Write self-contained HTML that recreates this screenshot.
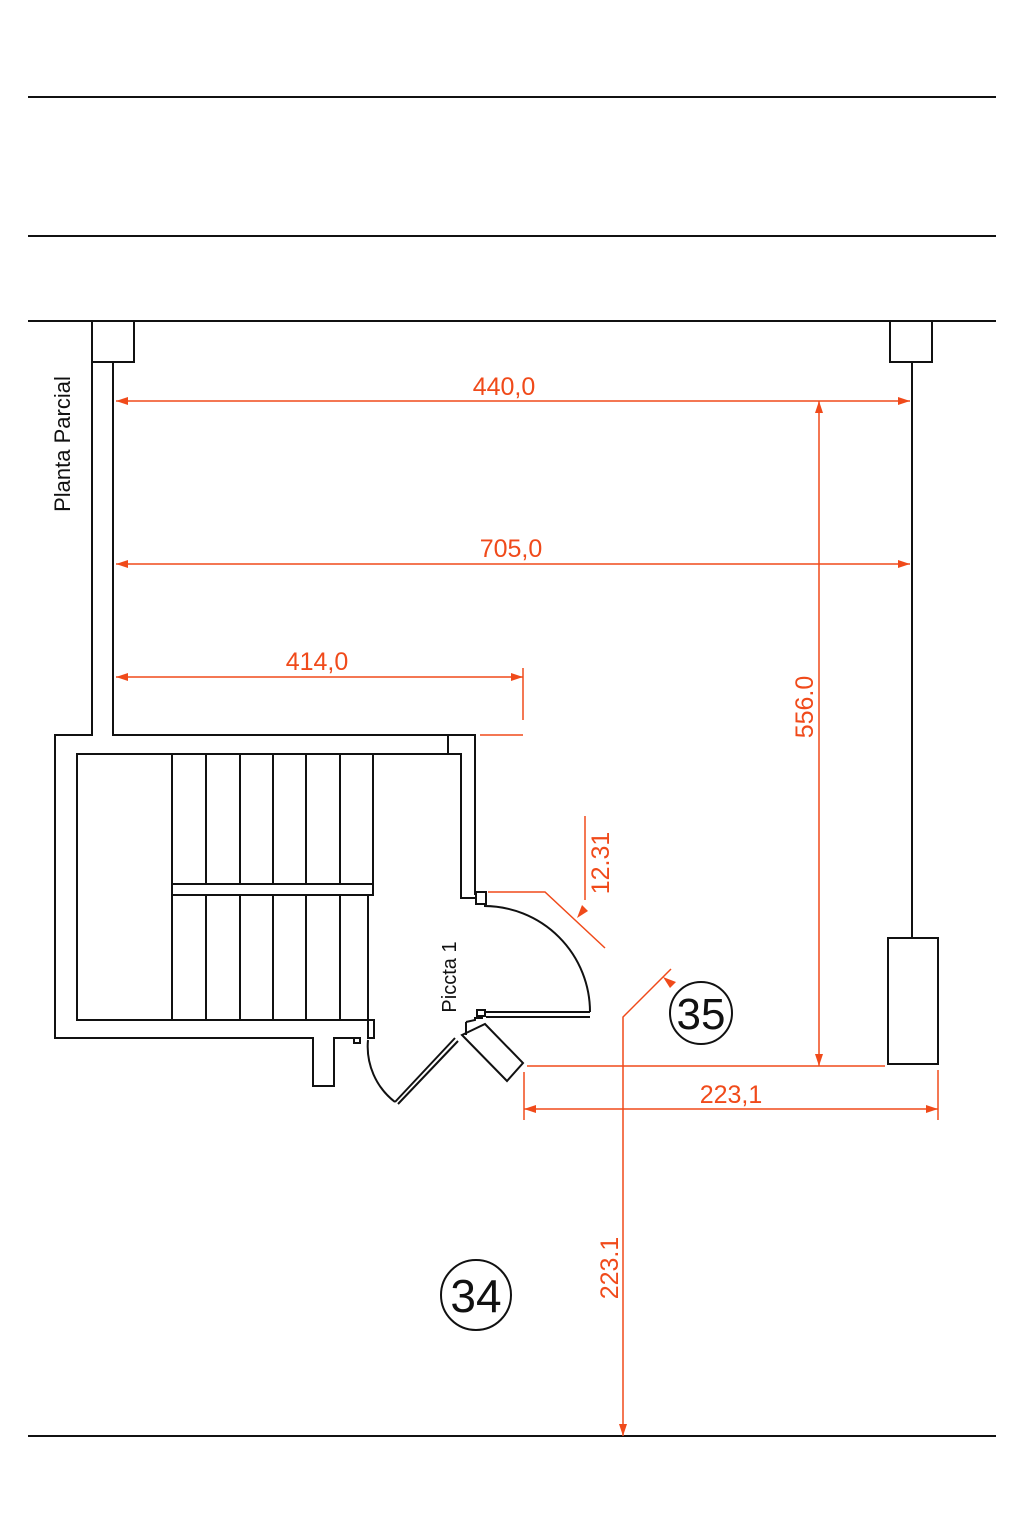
<!DOCTYPE html>
<html><head><style>html,body{margin:0;padding:0;background:#fff}svg{display:block}</style></head><body>
<svg width="1024" height="1536" viewBox="0 0 1024 1536" xmlns="http://www.w3.org/2000/svg" font-family="Liberation Sans, sans-serif">
<g stroke="#111" stroke-width="2" fill="none">
<line x1="28" y1="97" x2="996" y2="97"/>
<line x1="28" y1="236" x2="996" y2="236"/>
<line x1="28" y1="321" x2="996" y2="321"/>
<line x1="28" y1="1436" x2="996" y2="1436"/>
<rect x="92" y="321" width="42" height="41" fill="#fff"/>
<rect x="890" y="321" width="42" height="41" fill="#fff"/>
<polyline points="92,362 92,735 55,735 55,1038 313,1038 313,1086 334,1086 334,1038 360,1038"/>
<polyline points="113,362 113,735 475,735 475,895"/>
<line x1="448" y1="735" x2="448" y2="754"/>
<polyline points="368,1020 77,1020 77,754 461,754 461,898 476,898"/>
<line x1="172" y1="754" x2="172" y2="1020"/>
<line x1="206" y1="754" x2="206" y2="1020"/>
<line x1="240" y1="754" x2="240" y2="1020"/>
<line x1="273" y1="754" x2="273" y2="1020"/>
<line x1="306" y1="754" x2="306" y2="1020"/>
<line x1="340" y1="754" x2="340" y2="1020"/>
<rect x="172" y="884" width="201" height="11" fill="#fff"/>
<line x1="373" y1="754" x2="373" y2="884"/>
<line x1="368" y1="895" x2="368" y2="1020"/>
<rect x="368" y="1020" width="6" height="18"/>
<rect x="354" y="1038" width="6" height="5"/>
<rect x="476" y="892" width="10" height="12"/>
<path d="M484,906 A106,106 0 0 1 590,1012"/>
<line x1="486" y1="1012" x2="590" y2="1012"/>
<line x1="486" y1="1017" x2="590" y2="1017"/>
<rect x="477" y="1010" width="8" height="6"/>
<path d="M368,1040 A70,70 0 0 0 395,1102"/>
<line x1="395" y1="1102" x2="455" y2="1038"/>
<line x1="398" y1="1104" x2="458" y2="1041"/>
<polyline points="466,1022 475,1020 475,1018 483,1018"/>
<line x1="466" y1="1022" x2="466" y2="1035"/>
<polygon points="462,1035 485,1024 523,1063 507,1081"/>
<polyline points="912,362 912,938"/>
<rect x="888" y="938" width="50" height="126"/>
</g>
<g stroke="#f04a1a" stroke-width="1.5" fill="none">
<line x1="116" y1="401" x2="910" y2="401"/>
<line x1="116" y1="564" x2="910" y2="564"/>
<line x1="116" y1="677" x2="523" y2="677"/>
<line x1="523" y1="668" x2="523" y2="720"/>
<line x1="480" y1="735" x2="523" y2="735"/>
<line x1="819" y1="401" x2="819" y2="1066"/>
<line x1="527" y1="1066" x2="885" y2="1066"/>
<line x1="524" y1="1109" x2="938" y2="1109"/>
<line x1="524" y1="1072" x2="524" y2="1120"/>
<line x1="938" y1="1070" x2="938" y2="1120"/>
<polyline points="623,1436 623,1017 671,969"/>
<line x1="585" y1="816" x2="585" y2="900"/>
<polyline points="488,892 545,892 605,948"/>
</g>
<g fill="#f04a1a">
<polygon points="116,401 128,397 128,405"/><polygon points="910,401 898,397 898,405"/>
<polygon points="116,564 128,560 128,568"/><polygon points="910,564 898,560 898,568"/>
<polygon points="116,677 128,673 128,681"/><polygon points="523,677 511,673 511,681"/>
<polygon points="819,401 815,413 823,413"/><polygon points="819,1066 815,1054 823,1054"/>
<polygon points="524,1109 536,1105 536,1113"/><polygon points="938,1109 926,1105 926,1113"/>
<polygon points="623,1436 619,1424 627,1424"/>
<polygon points="577,918 582,905 588,911"/>
<polygon points="663,977 676,982 670,988"/>
</g>
<g fill="#f04a1a" font-size="25" text-anchor="middle">
<text x="504" y="395">440,0</text>
<text x="511" y="557">705,0</text>
<text x="317" y="670">414,0</text>
<text x="731" y="1103">223,1</text>
<text transform="translate(813,707) rotate(-90)">556.0</text>
<text transform="translate(618,1268) rotate(-90)">223.1</text>
<text transform="translate(609,863) rotate(-90)">12.31</text>
</g>
<g fill="#111" text-anchor="middle">
<text transform="translate(70,444) rotate(-90)" font-size="22">Planta Parcial</text>
<text transform="translate(456,977) rotate(-90)" font-size="20">Piccta 1</text>
</g>
<circle cx="701" cy="1013" r="31" fill="none" stroke="#111" stroke-width="2"/>
<text x="701" y="1029" font-size="44" text-anchor="middle" fill="#111">35</text>
<circle cx="476" cy="1295" r="35" fill="none" stroke="#111" stroke-width="2"/>
<text x="476" y="1312" font-size="46" text-anchor="middle" fill="#111">34</text>
</svg>
</body></html>
